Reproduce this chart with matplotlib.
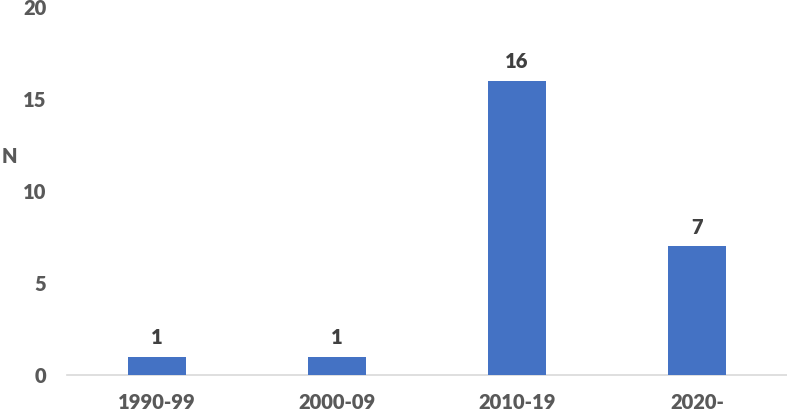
import matplotlib.pyplot as plt

decades = ['1990-99', '2000-09', '2010-19', '2020-']
counts = [1, 1, 16, 7]
yticks = [0, 5, 10, 15, 20]

plt.rcParams['font.family'] = ['Lato', 'DejaVu Sans']
plt.rcParams['font.weight'] = 'heavy'

fig = plt.figure(figsize=(7.87, 4.12), dpi=100)
ax = fig.add_axes([67/787, 37/412, 720/787, 368/412])

x = range(len(decades))
bars = ax.bar(x, counts, width=0.317, color='#4472C4', zorder=3)
for xi, v in zip(x, counts):
    ax.text(xi, v + 0.5, str(v), ha='center', va='bottom',
            fontsize=14.5, fontweight='heavy', color='#404040')

ax.set_xlim(-0.5, 3.5)
ax.set_ylim(0, 20)
ax.set_yticks(yticks)
ax.set_xticks(list(x))
ax.set_xticklabels(decades)
for s in ['top', 'right', 'left']:
    ax.spines[s].set_visible(False)
ax.spines['bottom'].set_color('#D9D9D9')
ax.spines['bottom'].set_linewidth(1.2)
ax.tick_params(axis='both', length=0, labelsize=14.5, labelcolor='#595959')
ax.tick_params(axis='x', pad=13)
ax.tick_params(axis='y', pad=15)
for lab in ax.get_xticklabels() + ax.get_yticklabels():
    lab.set_fontweight('heavy')

fig.text(0.002, 1 - 157/412, 'N', ha='left', va='center',
         fontsize=14.5, fontweight='heavy', color='#595959')

fig.savefig('out.png', dpi=100)
